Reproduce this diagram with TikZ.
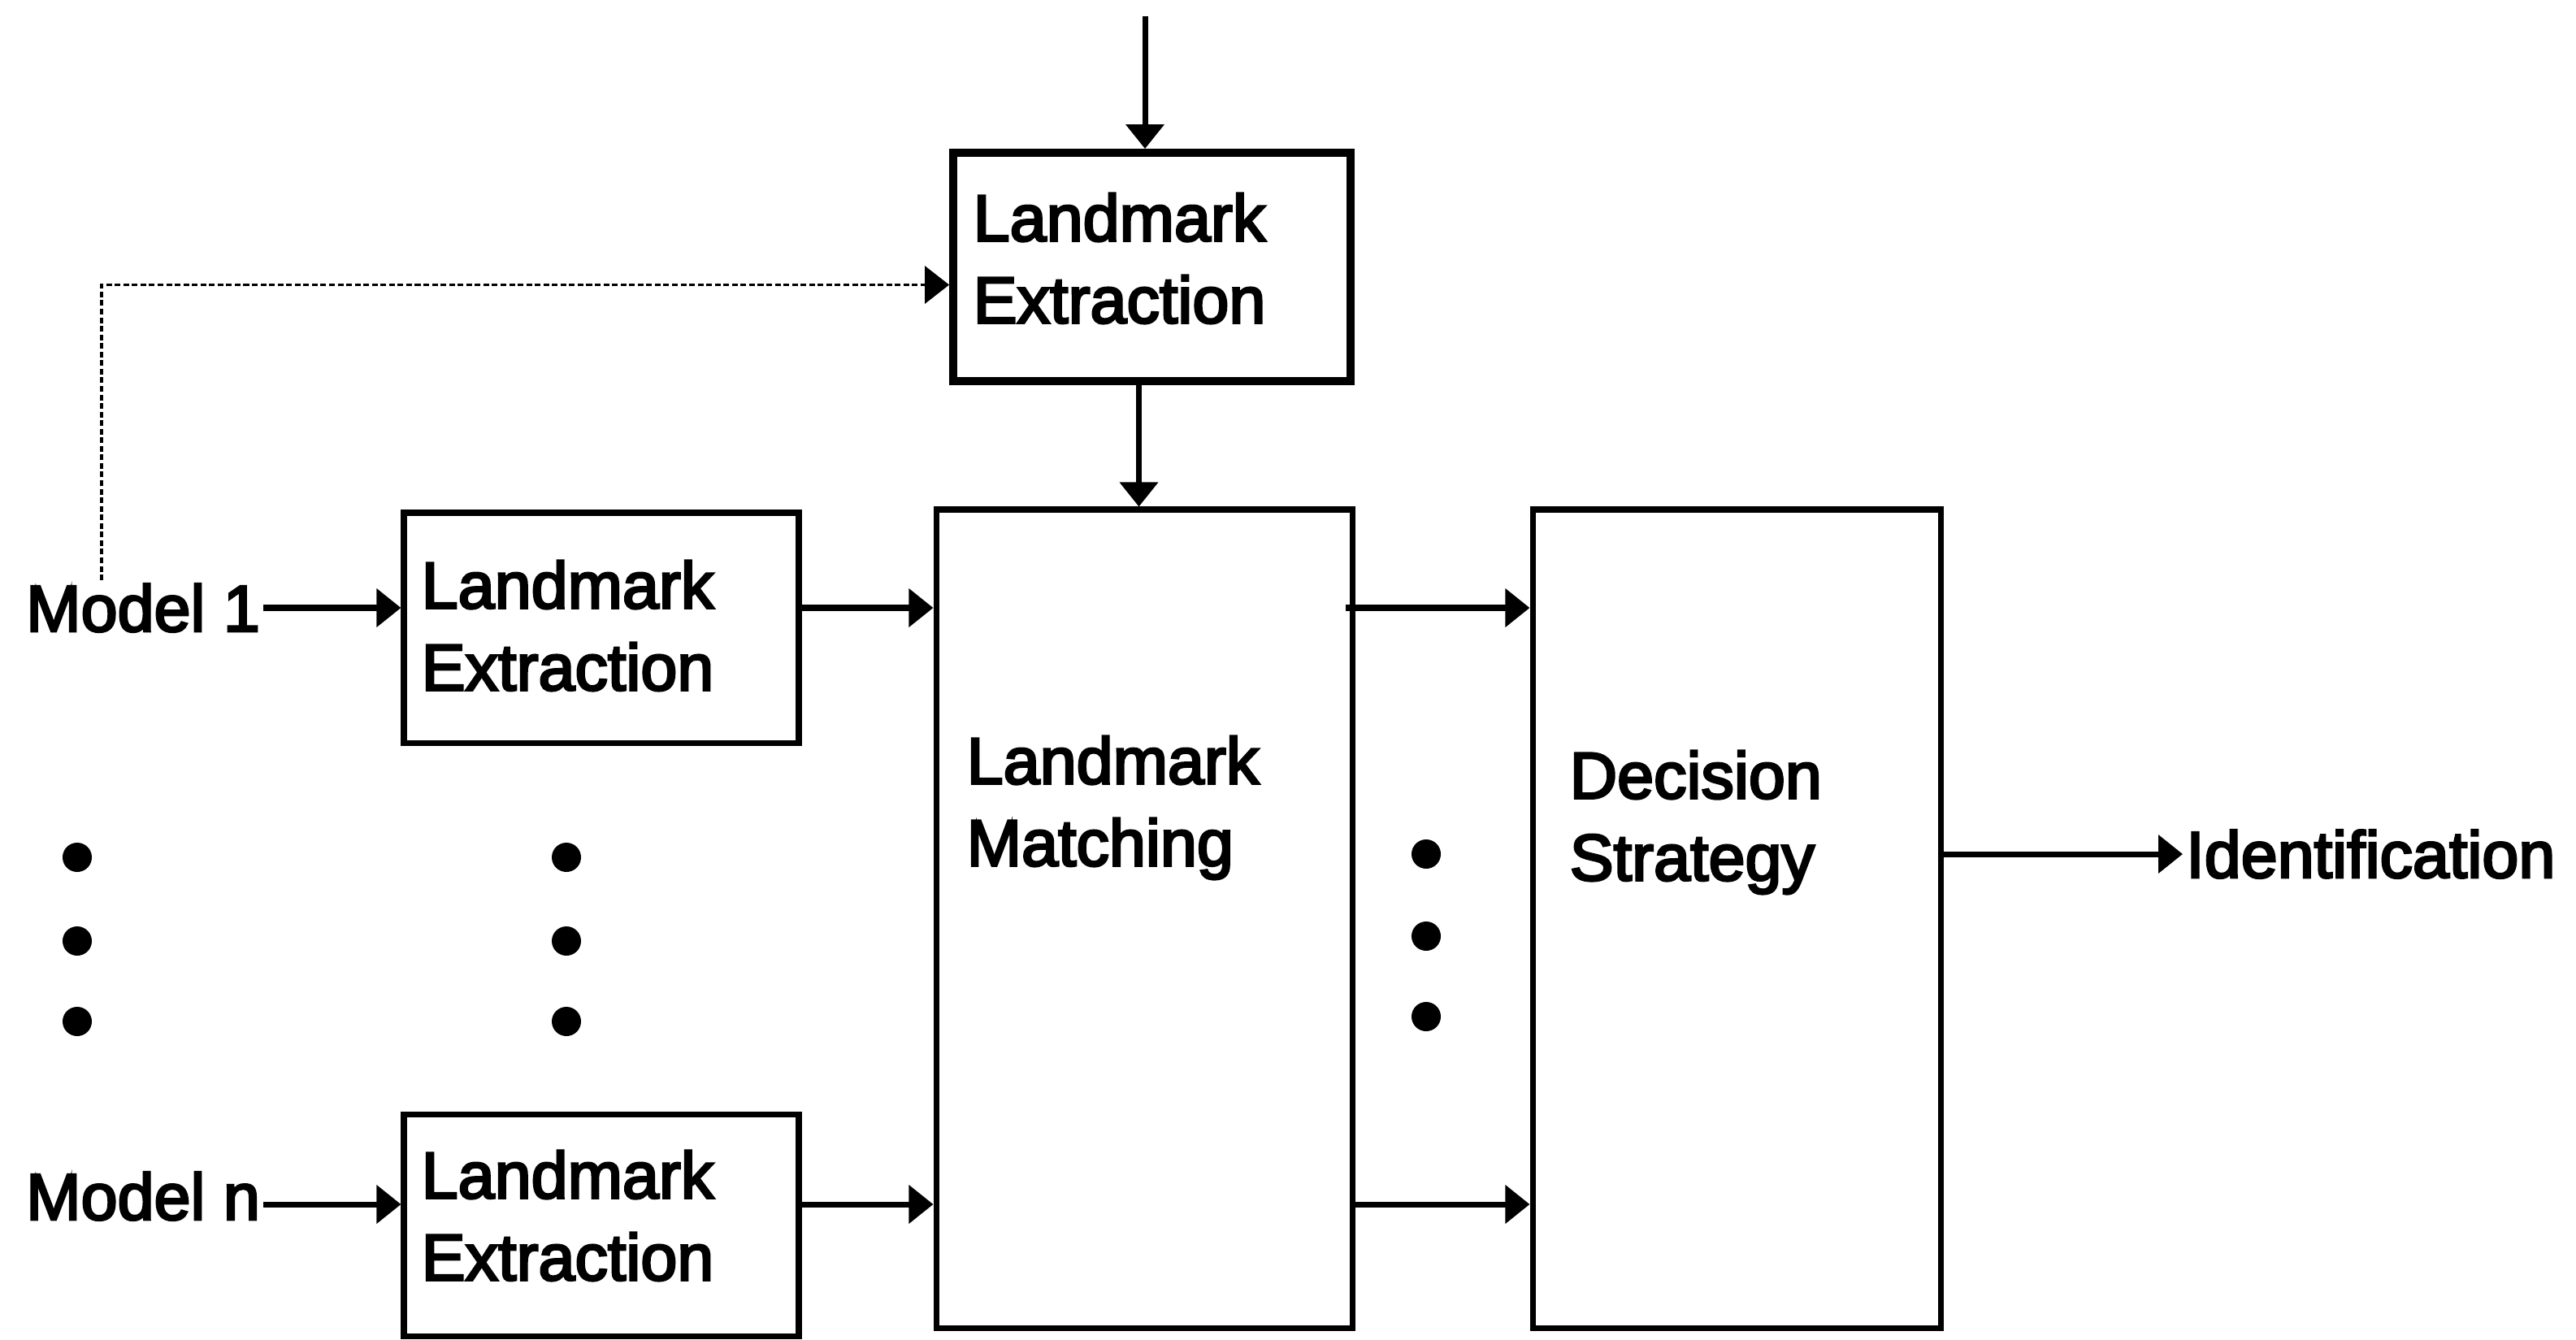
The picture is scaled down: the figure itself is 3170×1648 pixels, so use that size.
\documentclass[tikz,border=0pt]{standalone}
\usepackage{fontspec}
\newfontfamily\diagfont{Liberation Sans}[FakeBold=3.5]
\usetikzlibrary{arrows.meta,fit,calc}
\begin{document}
\begin{tikzpicture}[x=0.01cm,y=-0.01cm,
  font=\diagfont\fontsize{23}{28.7}\selectfont,
  box/.style={draw, line width=2pt, rectangle, inner sep=0pt},
  heavybox/.style={box, line width=2.8pt},
  lbl/.style={anchor=west, align=left, inner sep=0pt},
  tag/.style={anchor=west, inner sep=1pt},
  tip/.style={-{Triangle[length=3mm,width=4.6mm]}},
  arr/.style={line width=2pt, tip},
  dotarr/.style={line width=1pt, dash pattern=on 2pt off 1pt, tip},
  bullet/.style={fill=black}]
\useasboundingbox (0,0) rectangle (3170,1648);

% processing blocks
\node[heavybox, fit={(1173,188) (1662,469)}] (te) {};
\node[box, fit={(497,631) (983,914)}] (le1) {};
\node[box, fit={(497,1371) (983,1644)}] (len) {};
\node[box, fit={(1152,627) (1664,1634)}] (lm) {};
\node[box, fit={(1886,627) (2388,1634)}] (ds) {};

% block captions
\node[lbl] (tet) at (1197,318) {Landmark\\Extraction};
\node[lbl] (le1t) at (518,770) {Landmark\\Extraction};
\node[lbl] (lent) at (518,1496) {Landmark\\Extraction};
\node[lbl] (lmt) at (1189,994) {Landmark\\Matching};
\node[lbl] (dst) at (1931,1012) {Decision\\Strategy};

% inputs and output
\node[tag] (m1) at (28,748) {Model 1};
\node[tag] (mn) at (28,1472) {Model n};
\node[tag] (idn) at (2686,1051) {Identification};
\coordinate (src) at (1409,20);
\coordinate (dx) at (125,0);
\coordinate (mnout) at ([yshift=-0.1cm]mn.east);

% connectors
\draw[arr] (src) -- (src |- te.north);
\draw[arr] ([xshift=-0.16cm]te.south) -- ([xshift=-0.16cm]te.south |- lm.north);
\draw[dotarr] (m1.north -| dx) |- ([yshift=-0.22cm]te.west);
\draw[arr] (m1.east) -- (m1.east -| le1.west);
\draw[arr] (le1.east |- m1.east) -- (lm.west |- m1.east);
\draw[arr] ([xshift=-0.12cm]lm.east |- m1.east) -- (ds.west |- m1.east);
\draw[arr] (mnout) -- (mnout -| len.west);
\draw[arr] (len.east |- mnout) -- (lm.west |- mnout);
\draw[arr] (lm.east |- mnout) -- (ds.west |- mnout);
\draw[arr] (ds.east |- idn.west) -- (idn.west);

% ellipsis dots
\foreach \x/\ya/\yb/\yc in {95/1055/1158/1257, 697/1055/1158/1257, 1755/1051/1152/1251}{
  \fill[bullet] (\x,\ya) circle (0.18cm);
  \fill[bullet] (\x,\yb) circle (0.18cm);
  \fill[bullet] (\x,\yc) circle (0.18cm);
}
\end{tikzpicture}
\end{document}
